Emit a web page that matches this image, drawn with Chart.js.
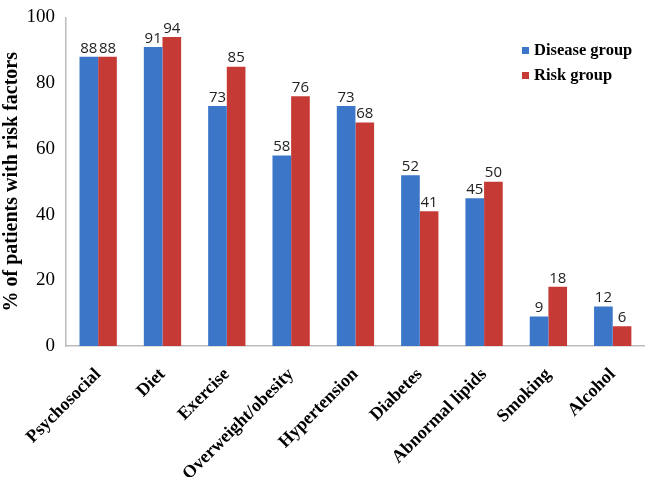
<!DOCTYPE html>
<html>
<head>
<meta charset="utf-8">
<script src="https://cdn.jsdelivr.net/npm/chart.js@4"></script>
<style>
  body { margin: 0; background: #fff; }
  #wrap { width: 646px; height: 477px; }
</style>
</head>
<body>
<div id="wrap"><canvas id="myChart"></canvas></div>
<script>
// chart data
const categories = ['Psychosocial', 'Diet', 'Exercise', 'Overweight/obesity', 'Hypertension',
    'Diabetes', 'Abnormal lipids', 'Smoking', 'Alcohol'];
const diseaseGroup = [88, 91, 73, 58, 73, 52, 45, 9, 12];
const riskGroup = [88, 94, 85, 76, 68, 41, 50, 18, 6];
const yTicks = [0, 20, 40, 60, 80, 100];

const serif = '"Liberation Serif", "DejaVu Serif", serif';

// numbers above every bar
const valueLabels = {
    id: 'valueLabels',
    afterDatasetsDraw(chart) {
        const ctx = chart.ctx;
        ctx.save();
        ctx.font = '15px "Open Sans", sans-serif';
        ctx.fillStyle = '#222';
        ctx.textAlign = 'center';
        ctx.textBaseline = 'bottom';
        chart.data.datasets.forEach(function(ds, i) {
            chart.getDatasetMeta(i).data.forEach(function(bar, j) {
                ctx.fillText(ds.data[j], bar.x, bar.y - 1);
            });
        });
        ctx.restore();
    }
};

// legend drawn inside the plot, top right
const insideLegend = {
    id: 'insideLegend',
    afterDraw(chart) {
        const ctx = chart.ctx;
        ctx.save();
        ctx.font = 'bold 16.5px ' + serif;
        ctx.textBaseline = 'middle';
        chart.data.datasets.forEach(function(ds, i) {
            const y = 51 + i * 25;
            ctx.fillStyle = ds.backgroundColor;
            ctx.fillRect(522, y - 4, 7, 7);
            ctx.fillStyle = '#000';
            ctx.fillText(ds.label, 534, y);
        });
        ctx.restore();
    }
};

const ctx = document.getElementById('myChart').getContext('2d');
const myChart = new Chart(ctx, {
    type: 'bar',
    data: {
        labels: categories,
        datasets: [{
            label: 'Disease group',
            data: diseaseGroup,
            backgroundColor: '#3b76c9'
        }, {
            label: 'Risk group',
            data: riskGroup,
            backgroundColor: '#c63a36'
        }]
    },
    options: {
        responsive: true,
        maintainAspectRatio: false,
        animation: false,
        datasets: {
            bar: { categoryPercentage: 0.58, barPercentage: 1 }
        },
        layout: { padding: { top: 8, right: 0 } },
        plugins: {
            legend: { display: false },
            tooltip: { enabled: false }
        },
        scales: {
            x: {
                grid: { display: false, drawTicks: false },
                border: { color: '#bbb', width: 1.5 },
                ticks: {
                    color: '#000',
                    font: { family: serif, size: 18, weight: 'bold' },
                    minRotation: 45,
                    maxRotation: 45,
                    padding: 18
                },
                afterFit(scale) { scale.height = 131; }
            },
            y: {
                min: 0,
                max: 100,
                afterBuildTicks(scale) {
                    scale.ticks = yTicks.map(function(v) { return { value: v }; });
                },
                grid: { display: false, drawTicks: true, tickLength: 5, color: '#bbb' },
                border: { color: '#bbb', width: 1.5 },
                ticks: {
                    color: '#000',
                    font: { family: serif, size: 19 },
                    padding: 6
                },
                title: {
                    display: true,
                    text: '% of patients with risk factors',
                    color: '#000',
                    font: { family: serif, size: 20, weight: 'bold' },
                    padding: { top: 0, bottom: 0 }
                },
                afterFit(scale) { scale.width = 66; }
            }
        }
    },
    plugins: [valueLabels, insideLegend]
});
</script>
</body>
</html>
